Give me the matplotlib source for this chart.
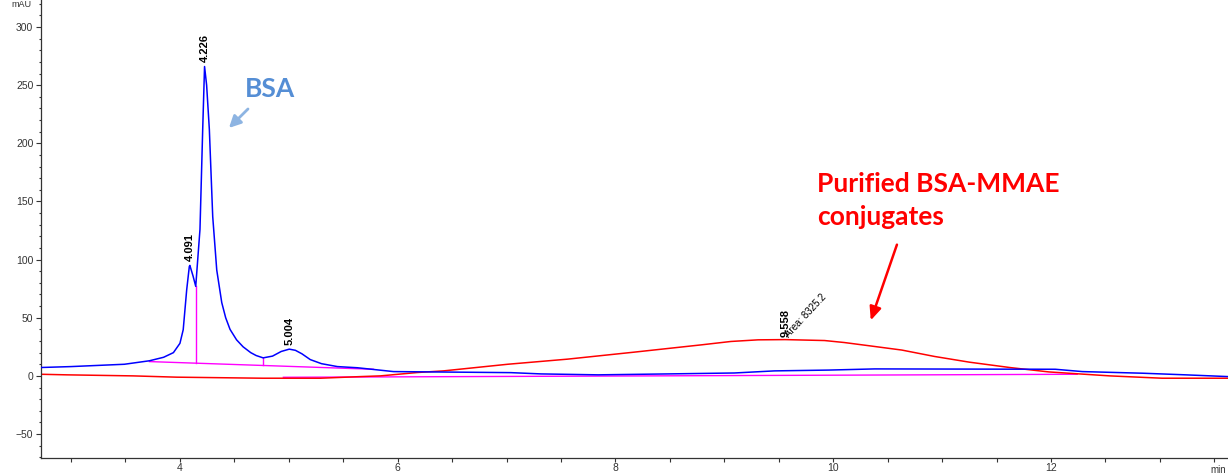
import numpy as np
import matplotlib.pyplot as plt
from matplotlib.ticker import MultipleLocator

plt.rcParams['font.family'] = ['Liberation Sans', 'DejaVu Sans']

# Chromatogram of free BSA (blue trace), retention time in min vs signal in mAU
bsa_time = [2.72, 3.00, 3.49, 3.72, 3.85, 3.94, 4.00, 4.03, 4.062, 4.086, 4.091,
            4.12, 4.145, 4.184, 4.209, 4.226, 4.245, 4.270, 4.301, 4.338, 4.384,
            4.42, 4.460, 4.52, 4.580, 4.65, 4.70, 4.764, 4.85, 4.93, 5.004,
            5.06, 5.12, 5.197, 5.30, 5.446, 5.630, 5.961, 7.039, 7.315, 7.840,
            8.484, 9.092, 9.460, 9.958, 10.381, 12.039, 12.287, 12.840, 13.236, 13.625]
bsa_signal = [7.2, 8.0, 10.0, 13.0, 16.0, 20.0, 28.0, 39.7, 74.0, 94.0, 95.0,
              86.0, 77.0, 126.0, 212.0, 266.0, 250.0, 212.0, 137.0, 91.0, 63.0,
              50.0, 40.0, 31.0, 25.0, 20.0, 17.5, 15.5, 17.0, 21.0, 23.0,
              22.0, 19.0, 14.0, 10.5, 8.0, 7.0, 3.7, 2.8, 1.7, 0.9,
              1.7, 2.5, 4.3, 5.0, 6.0, 5.7, 3.7, 2.3, 0.9, -0.6]

# Purified BSA-MMAE conjugate (red trace)
adc_time = [2.72, 2.96, 3.57, 3.97, 4.76, 5.29, 5.66, 5.84, 6.18, 6.42, 7.01,
            7.56, 8.17, 8.79, 9.06, 9.31, 9.558, 9.92, 10.10, 10.33, 10.63,
            10.93, 11.25, 11.62, 11.98, 12.54, 13.02, 13.625]
adc_signal = [1.4, 0.9, 0.0, -1.1, -2.0, -2.0, -0.6, 0.0, 2.9, 4.3, 10.0,
              14.4, 20.4, 26.7, 29.6, 31.0, 31.2, 30.4, 28.7, 25.9, 22.2,
              16.7, 11.8, 7.2, 3.4, 0.0, -2.0, -2.0]

# Integration baselines (start, end) and peak labels
bsa_base_t = [3.72, 5.777]
bsa_base_y = [12.3, 5.7]
adc_base_t = [4.95, 12.24]
adc_base_y = [-1.2, 1.4]
bsa_drop_t = [4.145, 4.764]
bsa_drop_y = [77.0, 15.5]
bsa_peaks = [4.091, 4.226, 5.004]
bsa_peak_h = [95.0, 266.0, 23.0]
adc_peak = 9.558
adc_peak_h = 31.2
adc_area = 8325.2

fig = plt.figure(figsize=(12.28, 4.74), dpi=100)
ax = fig.add_axes([41 / 1228, 16 / 474, 1187 / 1228, 458 / 474])

ax.plot(bsa_time, bsa_signal, color='#0000FF', lw=1.1, zorder=3)
ax.plot(adc_time, adc_signal, color='#FF0000', lw=1.1, zorder=2)
ax.plot(bsa_base_t, bsa_base_y, color='#FF00FF', lw=1.0, zorder=2)
ax.plot(adc_base_t, adc_base_y, color='#FF00FF', lw=1.0, zorder=1)
for t, top in zip(bsa_drop_t, bsa_drop_y):
    bottom = np.interp(t, bsa_base_t, bsa_base_y)
    ax.plot([t, t], [bottom, top], color='#FF00FF', lw=1.0, zorder=2)

for t, h in zip(bsa_peaks, bsa_peak_h):
    ax.annotate(f'{t:.3f}', (t, h), xytext=(0, 3), textcoords='offset points',
                rotation=90, ha='center', va='bottom', fontsize=8, fontweight='bold')
ax.annotate(f'{adc_peak:.3f}', (adc_peak, adc_peak_h), xytext=(0, 2),
            textcoords='offset points', rotation=90, ha='center', va='bottom',
            fontsize=8, fontweight='bold')
ax.annotate(f'Area: {adc_area}', (adc_peak, adc_peak_h), xytext=(3, 1),
            textcoords='offset points', rotation=47, rotation_mode='anchor',
            ha='left', va='baseline', fontsize=7)

# Callouts
ax.text(4.826, 240, 'BSA', color='#558ED5', fontsize=19, fontweight='bold',
        family='Lato', ha='center', va='baseline')
ax.annotate('', xy=(4.432, 211.5), xytext=(4.643, 231.2),
            arrowprops=dict(arrowstyle='-|>,head_length=0.7,head_width=0.35',
                            color='#8DB4E2', lw=2))
ax.text(9.849, 158.1, 'Purified BSA-MMAE', color='#FF0000', fontsize=19,
        fontweight='bold', family='Lato', ha='left', va='baseline')
ax.text(9.849, 129.8, 'conjugates', color='#FF0000', fontsize=19,
        fontweight='bold', family='Lato', ha='left', va='baseline')
ax.annotate('', xy=(10.336, 45.5), xytext=(10.593, 115.1),
            arrowprops=dict(arrowstyle='-|>,head_length=0.8,head_width=0.35',
                            color='#FF0000', lw=1.8))

ax.set_xlim(2.724, 13.625)
ax.set_ylim(-70.6, 323.2)
ax.xaxis.set_major_locator(MultipleLocator(2))
ax.xaxis.set_minor_locator(MultipleLocator(0.5))
ax.yaxis.set_major_locator(MultipleLocator(50))
ax.yaxis.set_minor_locator(MultipleLocator(10))
ax.tick_params(axis='x', which='both', length=3, width=0.8, labelsize=7.5,
               pad=0.5, colors='#333333')
ax.tick_params(axis='y', which='major', length=3.5, width=0.8, labelsize=7.5,
               pad=2, colors='#333333')
ax.tick_params(axis='y', which='minor', length=1.8, width=0.8, colors='#333333')
for side in ['top', 'right']:
    ax.spines[side].set_visible(False)
for side in ['left', 'bottom']:
    ax.spines[side].set_color('#333333')
    ax.spines[side].set_linewidth(0.9)

fig.text(21 / 1228, 1.0, 'mAU', fontsize=6.5, color='#333333', ha='center', va='top')
fig.text(1210 / 1228, 4 / 474, 'min', fontsize=7, color='#333333', ha='left', va='center')

fig.savefig('out.png', dpi=100)
